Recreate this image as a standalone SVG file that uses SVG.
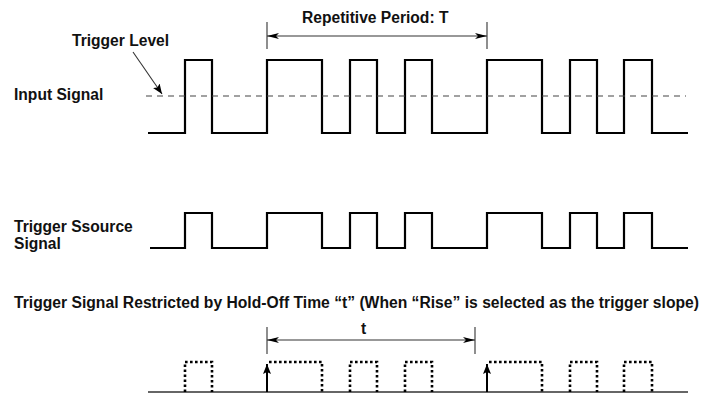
<svg xmlns="http://www.w3.org/2000/svg" width="702" height="394" viewBox="0 0 702 394">
<style>
text{font-family:"Liberation Sans",Arial,sans-serif;font-weight:bold;font-size:15.6px;fill:#111}
.sig{fill:none;stroke:#000;stroke-width:2.2;stroke-linejoin:miter}
.dim{fill:none;stroke:#333;stroke-width:1.1}
.lvl{fill:none;stroke:#444;stroke-width:1.2;stroke-dasharray:6 5}
.dot{fill:none;stroke:#000;stroke-width:2.6;stroke-dasharray:2.6 2.4}
.base{fill:none;stroke:#333;stroke-width:1.4}
</style>
<defs>
<marker id="ah" viewBox="0 0 12 6" refX="12" refY="3" markerWidth="12" markerHeight="6" markerUnits="userSpaceOnUse" orient="auto-start-reverse">
<path d="M0,0 L12,3 L0,6 L3,3 Z" fill="#000"/>
</marker>
<marker id="ah2" viewBox="0 0 10 8" refX="10" refY="4" markerWidth="10" markerHeight="8" markerUnits="userSpaceOnUse" orient="auto">
<path d="M0,0 L10,4 L0,8 L2,4 Z" fill="#000"/>
</marker>
</defs>
<g id="labels">
<text x="14" y="100">Input Signal</text>
<text x="72" y="46">Trigger Level</text>
<text x="302" y="23">Repetitive Period: T</text>
<text x="14" y="232">Trigger Ssource</text>
<text x="14" y="249">Signal</text>
<text x="14" y="308" textLength="685" lengthAdjust="spacingAndGlyphs">Trigger Signal Restricted by Hold-Off Time “t” (When “Rise” is selected as the trigger slope)</text>
<text x="361" y="334">t</text>
</g>
<g id="input-signal">
<path class="sig" d="M148,133 H185 V60 H212 V133 H267 V60 H322 V133 H350 V60 H377 V133 H405 V60 H432 V133 H487 V60 H542 V133 H570 V60 H597 V133 H624 V60 H652 V133 H688"/>
<path class="lvl" d="M146,96 H686"/>
</g>
<g id="trigger-source">
<path class="sig" d="M150,248 H185 V213 H212 V248 H267 V213 H322 V248 H350 V213 H377 V248 H405 V213 H432 V248 H487 V213 H542 V248 H570 V213 H597 V248 H624 V213 H652 V248 H688"/>
</g>
<g id="holdoff-signal">
<path class="base" d="M148,392 H688"/>
<path class="dot" d="M185,392 V362 H212 V392"/>
<path class="dot" d="M269,362 H322 V392"/>
<path class="dot" d="M350,392 V362 H377 V392"/>
<path class="dot" d="M405,392 V362 H432 V392"/>
<path class="dot" d="M489,362 H542 V392"/>
<path class="dot" d="M570,392 V362 H597 V392"/>
<path class="dot" d="M624,392 V362 H652 V392"/>
</g>
<g id="connectors">
<path class="dim" d="M133,52 L162,94" marker-end="url(#ah2)"/>
<path class="dim" d="M267,22 V49 M487,22 V49"/>
<path class="dim" d="M267,36 H487" marker-start="url(#ah)" marker-end="url(#ah)"/>
<path class="dim" d="M267,327 V354 M475,327 V354"/>
<path class="dim" d="M267,340 H475" marker-start="url(#ah)" marker-end="url(#ah)"/>
<path fill="none" stroke="#000" stroke-width="2" d="M267,392 V364" marker-end="url(#ah2)"/>
<path fill="none" stroke="#000" stroke-width="2" d="M487,392 V364" marker-end="url(#ah2)"/>
</g>
</svg>
